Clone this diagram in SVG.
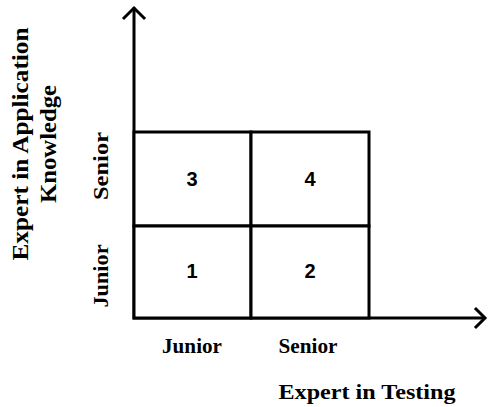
<svg xmlns="http://www.w3.org/2000/svg" width="488" height="407" viewBox="0 0 488 407">
<style>
.ax{fill:none;stroke:#000;stroke-width:3;stroke-linecap:square;stroke-linejoin:miter}
.cell{fill:#fff;stroke:#000;stroke-width:3}
.num{font-family:"Liberation Sans",Arial,sans-serif;font-weight:bold;font-size:20px;text-anchor:middle}
.lab{font-family:"Liberation Serif","Times New Roman",serif;font-weight:bold;text-anchor:middle}
</style>
<rect width="488" height="407" fill="#fff"/>
<g id="connectors">
<path class="ax" d="M134,9 V318 H483"/>
<path class="ax" d="M124,18 L134,8 L144,18"/>
<path class="ax" d="M476,309 L485,318 L476,327"/>
</g>
<g id="cell3"><rect class="cell" x="134" y="132" width="117" height="94"/><text class="num" x="192" y="186">3</text></g>
<g id="cell4"><rect class="cell" x="251" y="132" width="118" height="94"/><text class="num" x="310" y="186">4</text></g>
<g id="cell1"><rect class="cell" x="134" y="226" width="117" height="92"/><text class="num" x="192" y="278">1</text></g>
<g id="cell2"><rect class="cell" x="251" y="226" width="118" height="92"/><text class="num" x="310" y="278">2</text></g>
<g id="labels">
<text class="lab" font-size="21" x="192" y="353" textLength="60" lengthAdjust="spacingAndGlyphs">Junior</text>
<text class="lab" font-size="21" x="308" y="353" textLength="59" lengthAdjust="spacingAndGlyphs">Senior</text>
<text class="lab" font-size="22" x="367" y="399" textLength="177" lengthAdjust="spacingAndGlyphs">Expert in Testing</text>
<text class="lab" font-size="24" transform="translate(28,144) rotate(-90)" textLength="233" lengthAdjust="spacingAndGlyphs">Expert in Application</text>
<text class="lab" font-size="24" transform="translate(56,144) rotate(-90)" textLength="118" lengthAdjust="spacingAndGlyphs">Knowledge</text>
<text class="lab" font-size="21" transform="translate(108,166) rotate(-90)" textLength="68" lengthAdjust="spacingAndGlyphs">Senior</text>
<text class="lab" font-size="21" transform="translate(108,276) rotate(-90)" textLength="63" lengthAdjust="spacingAndGlyphs">Junior</text>
</g>
</svg>
